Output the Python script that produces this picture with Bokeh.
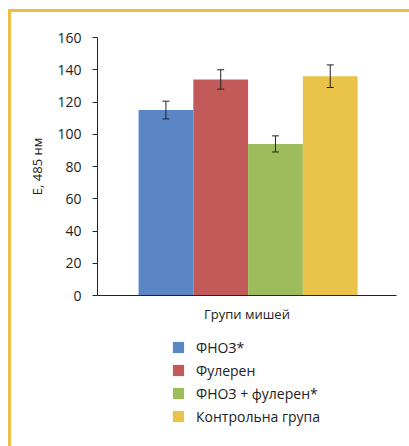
from bokeh.plotting import figure
from bokeh.layouts import column
from bokeh.models import (ColumnDataSource, Range1d, Whisker, Legend, LegendItem,
                          FixedTicker)
from bokeh.embed import file_html
from bokeh.resources import INLINE

groups = ["ФНОЗ*", "Фулерен", "ФНОЗ + фулерен*", "Контрольна група"]
values = [115, 134, 94, 136]
errors = [5.5, 6, 5, 7]
colors = ["#5B86C5", "#C25A5A", "#9DBD5C", "#E8C347"]
positions = [0, 1, 2, 3]
y_ticks = [0, 20, 40, 60, 80, 100, 120, 140, 160]

src = ColumnDataSource(dict(
    x=positions, top=values, color=colors, label=groups,
    upper=[v + e for v, e in zip(values, errors)],
    lower=[v - e for v, e in zip(values, errors)],
))

font = "Open Sans"
ink = "#222222"

# ---- main chart ----
p = figure(width=398, height=313, output_backend="svg", toolbar_location=None,
           x_range=Range1d(-1.25, 4.21), y_range=Range1d(0, 160),
           min_border_left=86, min_border_right=13, min_border_top=25,
           min_border_bottom=29)
p.outline_line_color = None
p.xgrid.visible = False
p.ygrid.visible = False

p.vbar(x="x", top="top", width=1.0, color="color", source=src, line_color=None)

w = Whisker(base="x", upper="upper", lower="lower", source=src,
            line_color=ink, line_width=1, level="overlay")
w.upper_head.size = 7
w.lower_head.size = 7
w.upper_head.line_color = ink
w.lower_head.line_color = ink
p.add_layout(w)

p.yaxis.ticker = FixedTicker(ticks=y_ticks)
p.yaxis.axis_label = "Е, 485 нм"
p.yaxis.axis_label_text_font = font
p.yaxis.axis_label_text_font_size = "13px"
p.yaxis.axis_label_text_font_style = "normal"
p.yaxis.axis_label_text_color = ink
p.yaxis.axis_label_standoff = 8
p.yaxis.major_label_text_font = font
p.yaxis.major_label_text_font_size = "14px"
p.yaxis.major_label_text_color = ink
p.yaxis.major_tick_out = 5
p.yaxis.major_tick_in = 0
p.yaxis.minor_tick_line_color = None
p.yaxis.axis_line_color = ink
p.yaxis.major_tick_line_color = ink
p.yaxis.major_label_standoff = 11

p.xaxis.ticker = FixedTicker(ticks=[])
p.xaxis.major_tick_line_color = None
p.xaxis.minor_tick_line_color = None
p.xaxis.major_label_text_font_size = "0px"
p.xaxis.axis_line_color = ink
p.xaxis.axis_label = "Групи мишей"
p.xaxis.axis_label_text_font = font
p.xaxis.axis_label_text_font_size = "13px"
p.xaxis.axis_label_text_font_style = "normal"
p.xaxis.axis_label_text_color = ink
p.xaxis.axis_label_standoff = 9

# ---- legend panel (bars kept off-canvas, used only as legend swatches) ----
lg = figure(width=398, height=121, output_backend="svg", toolbar_location=None,
            x_range=Range1d(100, 101), y_range=Range1d(1000, 1001),
            x_axis_location=None, y_axis_location=None,
            min_border_left=86, min_border_right=13, min_border_top=0,
            min_border_bottom=0)
lg.outline_line_color = None
lg.grid.visible = False
leg_bars = lg.vbar(x="x", top="top", width=1.0, color="color", source=src,
                   line_color=None)

items = [LegendItem(label=g, renderers=[leg_bars], index=i) for i, g in enumerate(groups)]
legend = Legend(items=items, location=(74, 20), orientation="vertical",
                label_text_font=font, label_text_font_size="14px",
                label_text_color=ink, glyph_width=14, glyph_height=14,
                label_height=20, spacing=3, label_standoff=11, padding=0,
                margin=0, border_line_color=None, background_fill_alpha=0)
lg.add_layout(legend, "center")

layout = column(p, lg, styles={"border-left": "3px solid #EDBE45",
                               "border-top": "3px solid #EDBE45",
                               "margin-left": "8px", "margin-top": "9px"})

open("out.html", "w").write(file_html(layout, INLINE))
